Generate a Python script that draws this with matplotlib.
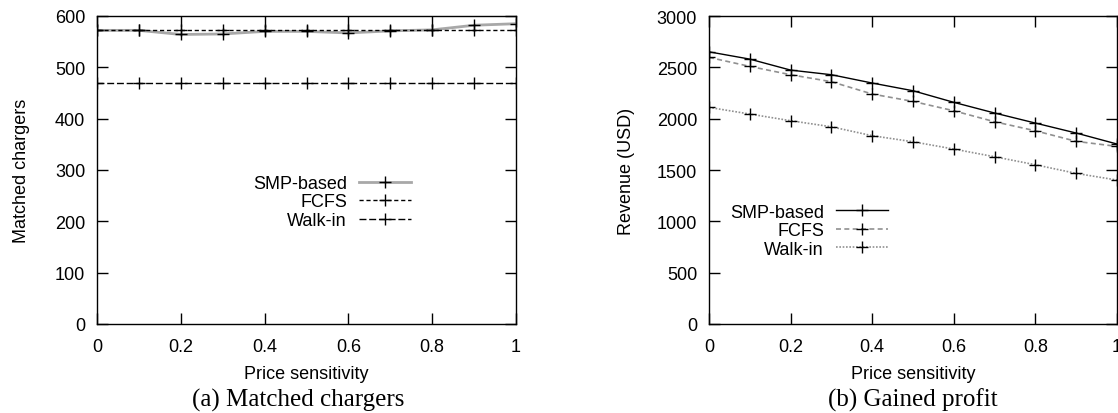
import matplotlib.pyplot as plt

# price sensitivity on the x axis
sens = [0, 0.1, 0.2, 0.3, 0.4, 0.5, 0.6, 0.7, 0.8, 0.9, 1.0]

# (a) matched chargers
match_smp = [572, 572, 564, 565, 570, 570, 567, 571, 573, 582, 585]
match_fcfs = [572, 572, 572, 572, 572, 572, 572, 572, 572, 572, 572]
match_walk = [469, 469, 469, 469, 469, 469, 469, 469, 469, 469, 469]

# (b) gained profit (USD)
rev_smp = [2651, 2580, 2473, 2428, 2347, 2272, 2159, 2055, 1957, 1860, 1753]
rev_fcfs = [2597, 2509, 2428, 2360, 2240, 2168, 2077, 1970, 1882, 1779, 1730]
rev_walk = [2110, 2045, 1980, 1921, 1834, 1775, 1704, 1629, 1551, 1467, 1402]

labels = ['SMP-based', 'FCFS', 'Walk-in']
xticks = [0, 0.2, 0.4, 0.6, 0.8, 1.0]
xticklabels = ['0', '0.2', '0.4', '0.6', '0.8', '1']

plt.rcParams['font.family'] = ['Liberation Sans', 'DejaVu Sans']
plt.rcParams['font.size'] = 13

fig = plt.figure(figsize=(11.18, 4.14), dpi=100)
ax1 = fig.add_axes([97/1118, 89/414, 419/1118, 308/414])
ax2 = fig.add_axes([709/1118, 89/414, 408/1118, 308/414])

mk = dict(marker='+', markersize=8, markeredgewidth=1.0, markeredgecolor='black')

#left panel
ax1.plot(sens, match_smp, color='#a8a8a8', lw=2, label=labels[0], **mk)
ax1.plot(sens, match_fcfs, color='black', lw=1, dashes=(3, 2), label=labels[1], **mk)
ax1.plot(sens, match_walk, color='black', lw=1, dashes=(5, 2), label=labels[2], **mk)
ax1.set_ylim(0, 600)
ax1.set_yticks(range(0, 601, 100))
ax1.set_ylabel('Matched chargers', labelpad=18)

#right panel
ax2.plot(sens, rev_smp, color='black', lw=1, label=labels[0], **mk)
ax2.plot(sens, rev_fcfs, color='#909090', lw=1.2, dashes=(3, 2), label=labels[1], **mk)
ax2.plot(sens, rev_walk, color='#909090', lw=1.2, dashes=(1, 1), label=labels[2], **mk)
ax2.set_ylim(0, 3000)
ax2.set_yticks(range(0, 3001, 500))
ax2.set_ylabel('Revenue (USD)', labelpad=16)

for ax in (ax1, ax2):
    ax.set_xlim(0, 1)
    ax.set_xticks(xticks)
    ax.set_xticklabels(xticklabels)
    ax.tick_params(direction='in', length=8, width=1, top=True, right=True)
    ax.tick_params(axis='x', pad=10)
    ax.tick_params(axis='y', pad=8.5)
    ax.set_xlabel('Price sensitivity', labelpad=7)
    for s in ax.spines.values():
        s.set_linewidth(1)

ax1.legend(loc='upper right', bbox_to_anchor=(0.771, 0.513), frameon=False, markerfirst=False,
           borderpad=0, handlelength=2.9, handletextpad=0.65, labelspacing=0.08, fontsize=13)
ax2.legend(loc='upper right', bbox_to_anchor=(0.461, 0.42), frameon=False, markerfirst=False,
           borderpad=0, handlelength=2.9, handletextpad=0.65, labelspacing=0.08, fontsize=13)

fig.text(298/1118, 1 - 400/414, '(a) Matched chargers', ha='center', va='center',
         family='Liberation Serif', fontsize=18)
fig.text(913/1118, 1 - 400/414, '(b) Gained profit', ha='center', va='center',
         family='Liberation Serif', fontsize=18)

fig.savefig('out.png', dpi=100)
